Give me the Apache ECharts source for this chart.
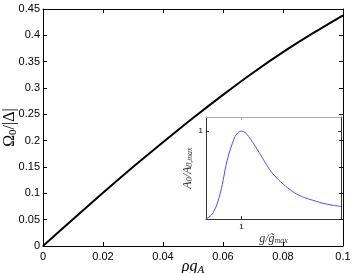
<!DOCTYPE html>
<html>
<head>
<meta charset="utf-8">
<script src="https://cdn.jsdelivr.net/npm/echarts@6/dist/echarts.min.js"></script>
<style>
    html, body { margin: 0; padding: 0; background: #fff; }
    #chart { width: 354px; height: 273px; }
</style>
</head>
<body>
<div id="chart"></div>
<script>
// main curve: rho*g_A -> Omega_0/|Delta|
var rhoG = [0, 0.01, 0.02, 0.03, 0.04, 0.05, 0.06, 0.07, 0.08, 0.09, 0.1];
var omega = [0, 0.051, 0.101, 0.150, 0.197, 0.243, 0.287, 0.329, 0.368, 0.404, 0.438];
var xTicks = [0, 0.02, 0.04, 0.06, 0.08, 0.1];
var yTicks = [0, 0.05, 0.1, 0.15, 0.2, 0.25, 0.3, 0.35, 0.4, 0.45];

// inset: g/g_max -> A_0/A_0,max
var gRatio = [0, 0.2, 0.4, 0.6, 0.8, 0.9, 1.0, 1.1, 1.2, 1.4, 1.6, 1.8, 2.0, 2.2, 2.4, 2.6, 2.8, 3.0, 3.2, 3.4, 3.6, 3.81];
var ampRatio = [0, 0.07, 0.29, 0.67, 0.92, 0.98, 1.0, 0.985, 0.94, 0.82, 0.69, 0.56, 0.465, 0.39, 0.325, 0.275, 0.24, 0.215, 0.19, 0.17, 0.155, 0.143];
var insetTicks = [1];

function pairs(xs, ys) {
    var out = [];
    for (var i = 0; i < xs.length; i++) {
        out.push([xs[i], ys[i]]);
    }
    return out;
}

var serif = 'Liberation Serif';
var sans = 'Liberation Sans';

var chart = echarts.init(document.getElementById('chart'));

var option = {
    animation: false,
    backgroundColor: '#fff',
    grid: [
        {left: 43, top: 9, width: 300, height: 237, containLabel: false, outerBoundsMode: 'none'},
        {left: 206, top: 117, width: 135, height: 102, show: true, containLabel: false, outerBoundsMode: 'none',
         backgroundColor: '#fff', borderWidth: 0}
    ],
    xAxis: [
        {
            gridIndex: 0, type: 'value', min: 0, max: 0.1, interval: 0.02,
            name: '{i|ρg}{s|A}', nameLocation: 'middle', nameGap: 12, nameMoveOverlap: false,
            nameTextStyle: {
                rich: {
                    i: {fontFamily: serif, fontStyle: 'italic', fontSize: 16, color: '#000', lineHeight: 18},
                    s: {fontFamily: serif, fontStyle: 'italic', fontSize: 11, color: '#000', lineHeight: 8, verticalAlign: 'bottom'}
                }
            },
            axisLine: {onZero: false, lineStyle: {color: '#000', width: 1}},
            axisTick: {inside: true, length: 4, lineStyle: {color: '#000'}},
            axisLabel: {fontFamily: sans, fontSize: 11, color: '#000', margin: 5},
            splitLine: {show: false}
        },
        {
            gridIndex: 0, type: 'value', min: 0, max: 0.1, interval: 0.02, position: 'top',
            axisLine: {onZero: false, lineStyle: {color: '#000', width: 1}},
            axisTick: {inside: true, length: 4, lineStyle: {color: '#000'}},
            axisLabel: {show: false},
            splitLine: {show: false}
        },
        {
            gridIndex: 1, type: 'value', min: 0, max: 3.81,
            name: '{i|g/g̃}{s|max}', nameLocation: 'middle', nameGap: 13, nameMoveOverlap: false,
            nameTextStyle: {
                rich: {
                    i: {fontFamily: serif, fontStyle: 'italic', fontSize: 12, color: '#333', lineHeight: 13},
                    s: {fontFamily: serif, fontStyle: 'italic', fontSize: 8, color: '#333', lineHeight: 6, verticalAlign: 'bottom'}
                }
            },
            axisLine: {onZero: false, lineStyle: {color: '#333', width: 1}},
            axisTick: {inside: true, length: 3, customValues: insetTicks, lineStyle: {color: '#333'}},
            axisLabel: {fontFamily: sans, fontSize: 8, color: '#000', margin: 4, customValues: insetTicks},
            splitLine: {show: false}
        },
        {
            gridIndex: 1, type: 'value', min: 0, max: 3.81, position: 'top',
            axisLine: {onZero: false, lineStyle: {color: '#aaa', width: 1}},
            axisTick: {inside: true, length: 3, customValues: insetTicks, lineStyle: {color: '#aaa'}},
            axisLabel: {show: false},
            splitLine: {show: false}
        }
    ],
    yAxis: [
        {
            gridIndex: 0, type: 'value', min: 0, max: 0.45, interval: 0.05,
            name: '{a|Ω}{s|0}{a|/|Δ|}', nameLocation: 'middle', nameGap: 24, nameMoveOverlap: false,
            nameTextStyle: {
                rich: {
                    a: {fontFamily: serif, fontSize: 16, color: '#000', lineHeight: 18},
                    s: {fontFamily: serif, fontSize: 11, color: '#000', lineHeight: 8, verticalAlign: 'bottom'}
                }
            },
            axisLine: {onZero: false, lineStyle: {color: '#000', width: 1}},
            axisTick: {inside: true, length: 4, lineStyle: {color: '#000'}},
            axisLabel: {fontFamily: sans, fontSize: 11, color: '#000', margin: 3},
            splitLine: {show: false}
        },
        {
            gridIndex: 0, type: 'value', min: 0, max: 0.45, interval: 0.05, position: 'right',
            axisLine: {onZero: false, lineStyle: {color: '#000', width: 1}},
            axisTick: {inside: true, length: 4, lineStyle: {color: '#000'}},
            axisLabel: {show: false},
            splitLine: {show: false}
        },
        {
            gridIndex: 1, type: 'value', min: 0, max: 1.16,
            name: '{i|A}{s|0}{i|/A}{s|0,max}', nameLocation: 'middle', nameGap: 12, nameMoveOverlap: false,
            nameTextStyle: {
                rich: {
                    i: {fontFamily: serif, fontStyle: 'italic', fontSize: 12, color: '#333', lineHeight: 13},
                    s: {fontFamily: serif, fontStyle: 'italic', fontSize: 8, color: '#333', lineHeight: 6, verticalAlign: 'bottom'}
                }
            },
            axisLine: {onZero: false, lineStyle: {color: '#333', width: 1}},
            axisTick: {inside: true, length: 3, customValues: insetTicks, lineStyle: {color: '#333'}},
            axisLabel: {fontFamily: sans, fontSize: 8, color: '#000', margin: 3, customValues: insetTicks},
            splitLine: {show: false}
        },
        {
            gridIndex: 1, type: 'value', min: 0, max: 1.16, position: 'right',
            axisLine: {onZero: false, lineStyle: {color: '#333', width: 1}},
            axisTick: {inside: true, length: 3, customValues: insetTicks, lineStyle: {color: '#333'}},
            axisLabel: {show: false},
            splitLine: {show: false}
        }
    ],
    series: [
        {
            type: 'line', xAxisIndex: 0, yAxisIndex: 0,
            data: pairs(rhoG, omega),
            smooth: 0.3, showSymbol: false,
            lineStyle: {color: '#000', width: 2}
        },
        {
            type: 'line', xAxisIndex: 2, yAxisIndex: 2,
            data: pairs(gRatio, ampRatio),
            smooth: 0.4, showSymbol: false, z: 6,
            lineStyle: {color: '#4d4dff', width: 1}
        }
    ]
};

chart.setOption(option);
</script>
</body>
</html>
